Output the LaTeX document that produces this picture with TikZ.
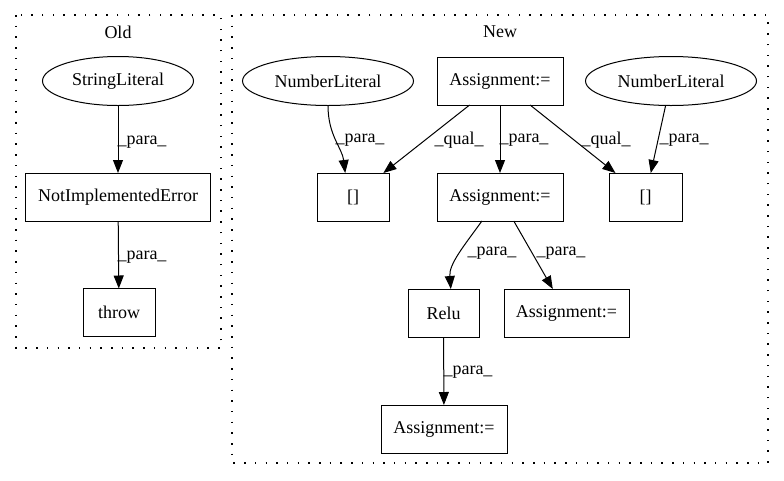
\documentclass[tikz,border=0pt]{standalone}
\usepackage{fontspec}
\setmainfont{Liberation Serif}
\usetikzlibrary{arrows.meta,shapes.geometric}
\begin{document}
\begin{tikzpicture}[x=1pt,y=-1pt,
  every node/.style={font=\fontsize{18}{20}\selectfont, inner sep=0pt, outer sep=0pt},
  boxnode/.style={draw, line width=1pt, rectangle, minimum height=48pt},
  ellnode/.style={draw, line width=1pt, ellipse, minimum height=49pt},
  edge/.style={draw, line width=1pt, -{Triangle[length=13pt,width=10pt]}},
  cluster/.style={draw, line width=1.2pt, dash pattern=on 1.5pt off 9.2pt},
  lbl/.style={}]
\useasboundingbox (0,0) rectangle (784,480);
% clusters
\draw[cluster] (16,15) rectangle (221,348);
\draw[cluster] (232,15) rectangle (768,463);
\node (tOld) at (118,32) {Old};
\node (tNew) at (500,32) {New};
% Old nodes
\node[ellnode, minimum width=151pt] (sl) at (118,81) {StringLiteral};
\node[boxnode, minimum width=185pt] (nie) at (118,197) {NotImplementedError};
\node[boxnode, minimum width=72pt] (thr) at (119,312.5) {throw};
% New nodes
\node[ellnode, minimum width=171pt] (nl1) at (328,81) {NumberLiteral};
\node[boxnode, minimum width=126pt] (a1) at (500,81) {Assignment:=};
\node[ellnode, minimum width=171pt] (nl2) at (671,81) {NumberLiteral};
\node[boxnode, minimum width=72pt] (b1) at (353,197) {[]};
\node[boxnode, minimum width=126pt] (a2) at (500,197) {Assignment:=};
\node[boxnode, minimum width=73pt] (b2) at (645.5,197) {[]};
\node[boxnode, minimum width=71pt] (relu) at (443.5,313) {Relu};
\node[boxnode, minimum width=125pt] (a3) at (566.5,313) {Assignment:=};
\node[boxnode, minimum width=126pt] (a4) at (444,429) {Assignment:=};
% edges
\draw[edge] (sl) -- (nie);
\draw[edge] (nie) -- (thr);
\draw[edge] (nl1.south) .. controls +(0,30) and +(-3,-25) .. (b1.108);
\draw[edge] (a1) -- (b1);
\draw[edge] (a1) -- (a2);
\draw[edge] (a1) -- (b2);
\draw[edge] (nl2) -- (b2);
\draw[edge] (a2.-127) .. controls +(-18,25) and +(-2,-25) .. (relu.73);
\draw[edge] (a2) -- (a3);
\draw[edge] (relu) -- (a4);
% labels
\node[lbl] (l1) at (142,142) {\_para\_};
\node[lbl] (l2) at (142,257) {\_para\_};
\node[lbl] (l3) at (360,140) {\_para\_};
\node[lbl] (l4) at (459,140) {\_qual\_};
\node[lbl] (l5) at (524,140) {\_para\_};
\node[lbl] (l6) at (606,140) {\_qual\_};
\node[lbl] (l7) at (684,140) {\_para\_};
\node[lbl] (l8) at (492,253) {\_para\_};
\node[lbl] (l9) at (561,253) {\_para\_};
\node[lbl] (l10) at (468,372) {\_para\_};
\end{tikzpicture}
\end{document}
